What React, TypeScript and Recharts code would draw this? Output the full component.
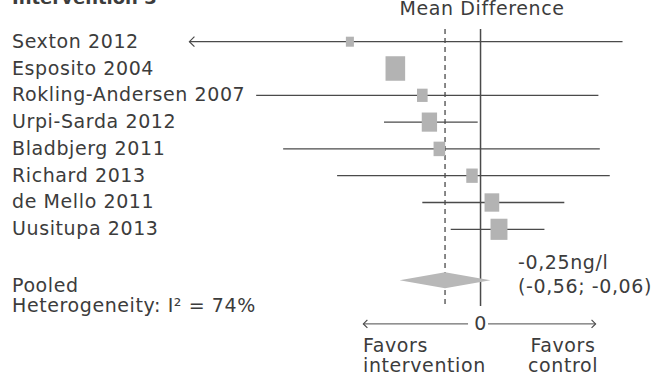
import { ComposedChart, Scatter, XAxis, YAxis, ReferenceLine, ReferenceDot } from 'recharts';

const studies = [
  'Sexton 2012',
  'Esposito 2004',
  'Rokling-Andersen 2007',
  'Urpi-Sarda 2012',
  'Bladbjerg 2011',
  'Richard 2013',
  'de Mello 2011',
  'Uusitupa 2013',
];
const estimates = [-0.92, -0.6, -0.41, -0.36, -0.29, -0.06, 0.08, 0.13];
const lower = [-2.6, -0.66, -1.58, -0.68, -1.39, -1.01, -0.41, -0.21];
const upper = [1.0, -0.55, 0.83, -0.02, 0.84, 0.91, 0.59, 0.45];
const weights = [4.1, 24.6, 7.2, 15.0, 8.6, 8.4, 13.8, 18.3];

const pooledEstimate = -0.25;
const pooledLower = -0.57;
const pooledUpper = 0.07;
const pooledText = ['-0,25ng/l', '(-0,56; -0,06)'];
const heterogeneity = 'Heterogeneity: I\u00b2 = 74%';

const title = 'Intervention 3';
const axisTitle = 'Mean Difference';
const favorsLeft = ['Favors', 'intervention'];
const favorsRight = ['Favors', 'control'];

// layout
const W = 664;
const H = 376;
const X_DOMAIN: [number, number] = [-3.384, 1.292];
const Y_DOMAIN: [number, number] = [-1.556, 12.474];
const X_CLIP = -2.05;
const POOLED_ROW = 8.9;
const AXIS_ROW = 10.53;
const REF_TOP = -0.47;
const REF_BOTTOM = 9.86;
const AXIS_LEFT = -0.825;
const AXIS_RIGHT = 0.81;

const INK = '#3c3c3c';
const LINE = '#4a4a4a';
const BOX = '#b3b3b3';
const FONT = '"DejaVu Sans", sans-serif';
const textStyle = { fontFamily: FONT, fontSize: 19, letterSpacing: 0.6, fill: INK };

const studyData = studies.map((name, i) => ({
  name,
  x: estimates[i],
  y: i,
  lo: lower[i],
  hi: upper[i],
  w: weights[i],
}));

const pooledData = [pooledLower, pooledEstimate, pooledUpper].map((x) => ({ x, y: POOLED_ROW }));

// box area follows study weight
const Box = (props: any) => {
  const { cx, cy, payload } = props;
  const area = payload.w * 19.55;
  const w = Math.sqrt(area / 1.25);
  const h = w * 1.25;
  return <rect x={cx - w / 2} y={cy - h / 2} width={w} height={h} fill={BOX} />;
};

const Label = (props: any) => {
  const { cy, payload } = props;
  return (
    <text x={12} y={cy + 6} {...textStyle}>
      {payload.name}
    </text>
  );
};

const Diamond = (props: any) => {
  const pts = props.points || [];
  if (pts.length < 3) return <g />;
  const [l, c, r] = pts;
  return (
    <polygon
      points={`${l.x},${l.y} ${c.x},${c.y - 8} ${r.x},${r.y} ${c.x},${c.y + 8}`}
      fill="#b8b8b8"
    />
  );
};

const Nothing = () => <g />;

const LeftArrow = ({ cx, cy, s }: any) => (
  <path d={`M${cx + s},${cy - s} L${cx},${cy} L${cx + s},${cy + s}`} fill="none" stroke={LINE} strokeWidth={1.2} />
);
const RightArrow = ({ cx, cy, s }: any) => (
  <path d={`M${cx - s},${cy - s} L${cx},${cy} L${cx - s},${cy + s}`} fill="none" stroke={LINE} strokeWidth={1.2} />
);

export default function App() {
  return (
    <div style={{ position: 'absolute', left: 0, top: 0, width: W, height: H, background: '#fff' }}>
      <ComposedChart width={W} height={H} margin={{ top: 0, right: 0, bottom: 0, left: 0 }}>
        <XAxis type="number" dataKey="x" domain={X_DOMAIN} allowDataOverflow hide />
        <YAxis type="number" dataKey="y" domain={Y_DOMAIN} allowDataOverflow reversed hide />
        <ReferenceLine
          segment={[{ x: 0, y: REF_TOP }, { x: 0, y: REF_BOTTOM }]}
          stroke={LINE}
          strokeWidth={1.5}
        />
        <ReferenceLine
          segment={[{ x: pooledEstimate, y: REF_TOP }, { x: pooledEstimate, y: REF_BOTTOM }]}
          stroke={LINE}
          strokeWidth={1.3}
          strokeDasharray="5 4"
        />
        <ReferenceLine
          segment={[{ x: AXIS_LEFT, y: AXIS_ROW }, { x: -0.088, y: AXIS_ROW }]}
          stroke={LINE}
          strokeWidth={1}
        />
        <ReferenceLine
          segment={[{ x: 0.053, y: AXIS_ROW }, { x: AXIS_RIGHT, y: AXIS_ROW }]}
          stroke={LINE}
          strokeWidth={1}
        />
        <ReferenceDot x={AXIS_LEFT} y={AXIS_ROW} shape={(p: any) => <LeftArrow {...p} s={4} />} />
        <ReferenceDot x={AXIS_RIGHT} y={AXIS_ROW} shape={(p: any) => <RightArrow {...p} s={4} />} />
        <ReferenceDot
          x={0}
          y={AXIS_ROW}
          shape={(p: any) => (
            <text x={p.cx} y={p.cy + 6.5} textAnchor="middle" {...textStyle}>
              0
            </text>
          )}
        />
        <ReferenceDot x={X_CLIP} y={0} shape={(p: any) => <LeftArrow {...p} s={5} />} />
        {studyData.map((d) => (
          <Scatter
            key={d.name}
            data={[
              { x: Math.max(d.lo, X_CLIP), y: d.y },
              { x: d.hi, y: d.y },
            ]}
            isAnimationActive={false}
            shape={<Nothing />}
            line={{ stroke: LINE, strokeWidth: 1.3 }}
            lineType="joint"
          />
        ))}
        <Scatter
          data={pooledData}
          isAnimationActive={false}
          shape={<Nothing />}
          line={(p: any) => <Diamond {...p} />}
          lineType="joint"
        />
        <Scatter data={studyData} isAnimationActive={false} shape={<Box />} />
        <Scatter data={studyData} isAnimationActive={false} shape={<Label />} />
      </ComposedChart>
      <svg width={W} height={H} style={{ position: 'absolute', left: 0, top: 0, pointerEvents: 'none' }}>
        <text x={12} y={4} fontFamily={FONT} fontSize={18} fontWeight="bold" fill={INK}>
          {title}
        </text>
        <text x={482} y={15} textAnchor="middle" {...textStyle}>
          {axisTitle}
        </text>
        <text x={12} y={291.5} {...textStyle}>
          Pooled
        </text>
        <text x={12} y={311.5} {...textStyle}>
          {heterogeneity}
        </text>
        <text x={518} y={269} {...textStyle}>
          {pooledText[0]}
        </text>
        <text x={518} y={293} {...textStyle}>
          {pooledText[1]}
        </text>
        <text x={363} y={351.5} {...textStyle}>
          {favorsLeft[0]}
        </text>
        <text x={363} y={371.5} {...textStyle}>
          {favorsLeft[1]}
        </text>
        <text x={563} y={351.5} textAnchor="middle" {...textStyle}>
          {favorsRight[0]}
        </text>
        <text x={563} y={371.5} textAnchor="middle" {...textStyle}>
          {favorsRight[1]}
        </text>
      </svg>
    </div>
  );
}
